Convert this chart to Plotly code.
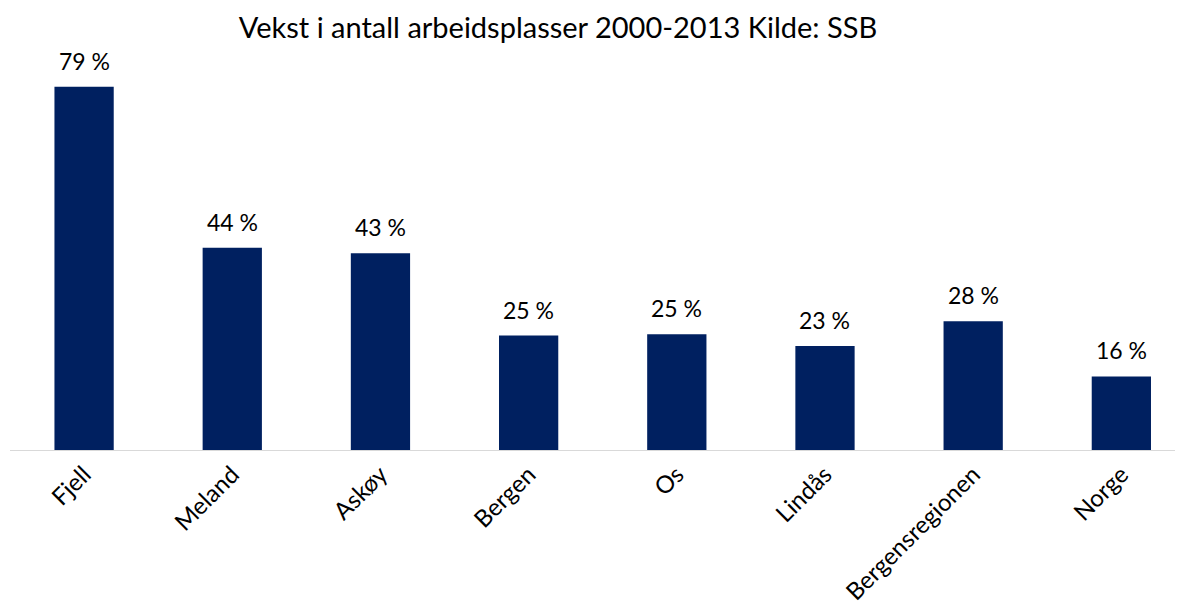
import plotly.graph_objects as go

categories = ["Fjell", "Meland", "Askøy", "Bergen", "Os", "Lindås", "Bergensregionen", "Norge"]
values = [79.0, 44.0, 42.8, 24.9, 25.2, 22.6, 28.0, 16.0]
labels = ["79 %", "44 %", "43 %", "25 %", "25 %", "23 %", "28 %", "16 %"]

FONT = "Lato"
NAVY = "#002060"

fig = go.Figure()
fig.add_trace(go.Bar(
    x=categories, y=values,
    marker=dict(color=NAVY, line=dict(width=0)),
    width=0.4,
    hoverinfo="skip",
))

for c, v, t in zip(categories, values, labels):
    fig.add_annotation(x=c, y=v, text=t, showarrow=False, yanchor="bottom",
                       yshift=10, font=dict(family=FONT, size=23, color="#000000"))

fig.update_layout(
    width=1183, height=615,
    margin=dict(l=2, r=0, t=42, b=173, autoexpand=False),
    paper_bgcolor="white", plot_bgcolor="white",
    showlegend=False,
    title=dict(text="Vekst i antall arbeidsplasser 2000-2013 Kilde: SSB",
               x=550/1183, xanchor="center", y=1-20/615, yanchor="middle",
               font=dict(family=FONT, size=29, color="#000000")),
    xaxis=dict(range=[-0.5, 7.47], showline=True, linecolor="#d9d9d9", linewidth=1,
               showgrid=False, zeroline=False, ticks="", tickangle=-45, automargin=False,
               tickfont=dict(family=FONT, size=24, color="#000000")),
    yaxis=dict(range=[0, 87], visible=False, showgrid=False, zeroline=False, automargin=False),
)

fig.write_html("out.html")
